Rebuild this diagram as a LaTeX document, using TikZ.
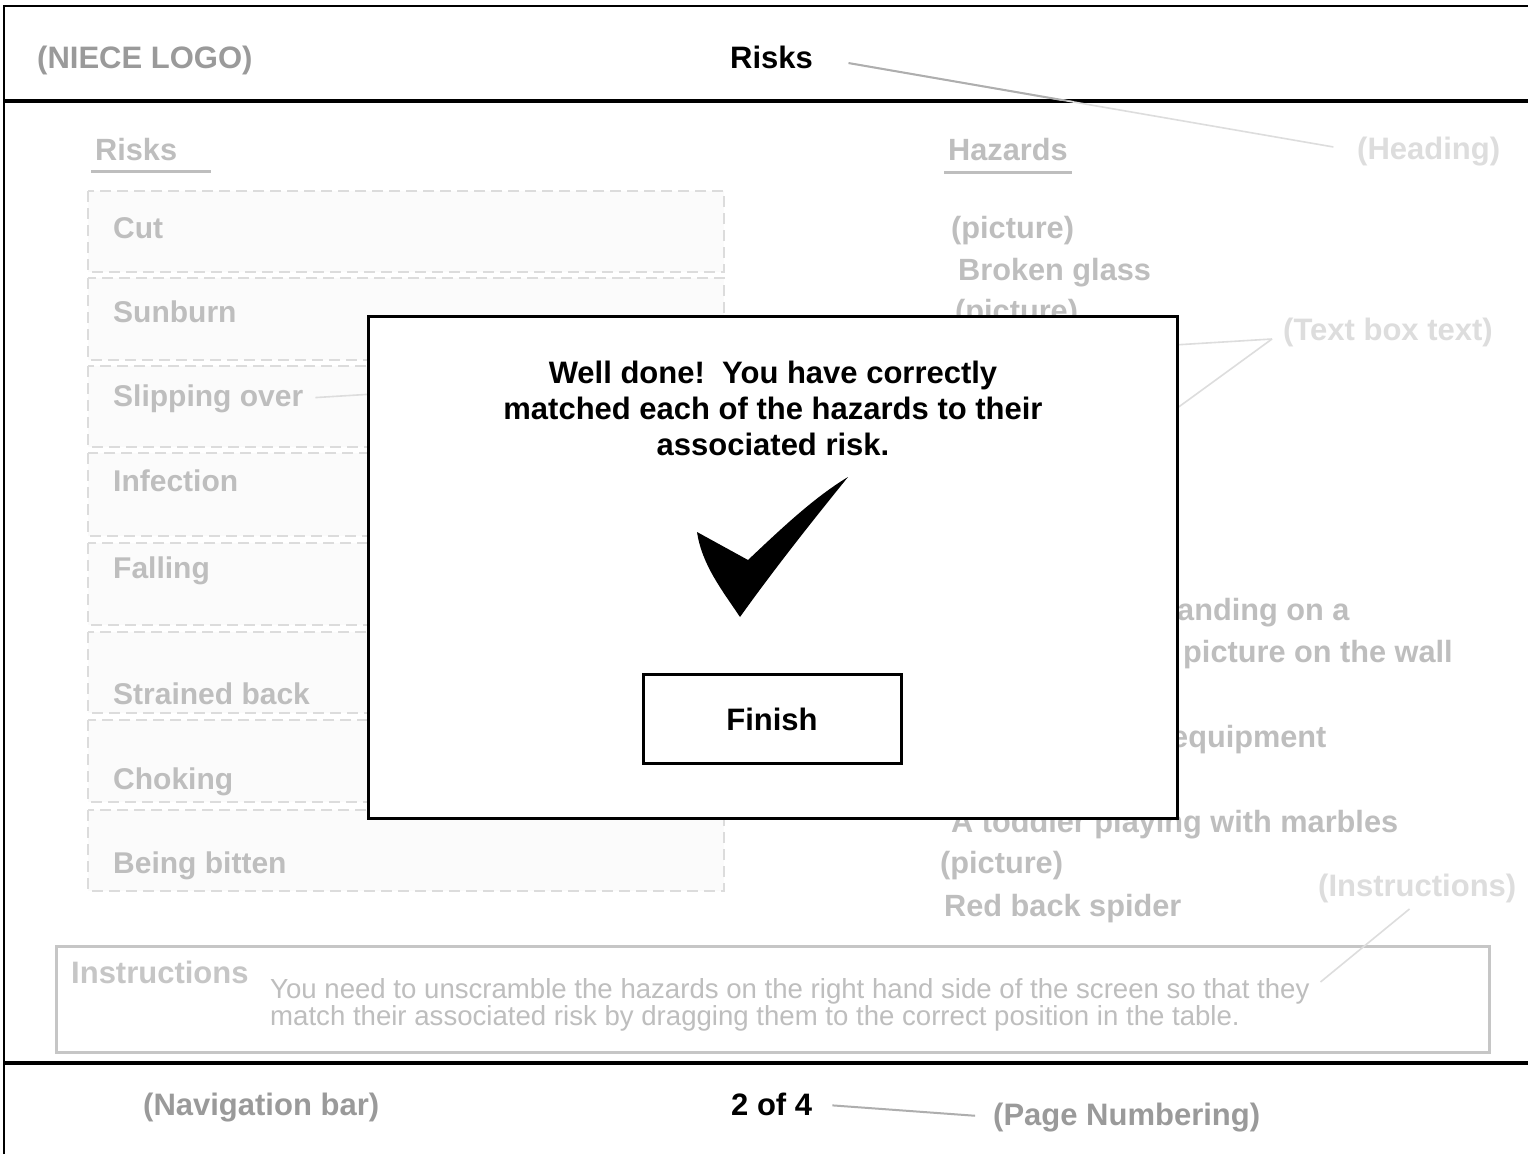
\documentclass[tikz,border=0pt]{standalone}
\usepackage{fontspec}
\setmainfont{Liberation Sans}

\definecolor{logogray}{HTML}{9A9A9A}
\definecolor{fadegray}{HTML}{BEBEBE}
\definecolor{notegray}{HTML}{DDDDDD}
\definecolor{boxgray}{HTML}{DCDCDC}
\definecolor{boxfill}{HTML}{FBFBFB}
\definecolor{insgray}{HTML}{C6C6C6}

\tikzset{
	bigtext/.style={anchor=base west,inner sep=0pt,font=\fontsize{31}{36}\selectfont\bfseries},
	risktext/.style={bigtext,font=\fontsize{30}{36}\selectfont\bfseries,text=fadegray},
	hazardtext/.style={bigtext,font=\fontsize{30.7}{36}\selectfont\bfseries,text=fadegray},
	notetext/.style={bigtext,text=notegray},
	noteline/.style={draw=notegray,line width=1.6pt},
	riskbox/.style={draw=boxgray,fill=boxfill,line width=1.6pt,dash pattern=on 11pt off 6pt},
	insline/.style={anchor=base west,inner sep=0pt,font=\fontsize{27.6}{27}\selectfont,text=fadegray}
}

\begin{document}
\begin{tikzpicture}[x=1pt,y=-1pt]
	\useasboundingbox (0,0) rectangle (1528,1154);
	\fill[white] (0,0) rectangle (1528,1154);

	% frame, header and footer
	\draw[line width=2.5pt] (4,1154) -- (4,6) -- (1528,6);
	\draw[line width=3.5pt] (4,101) -- (1528,101);
	\draw[line width=3.5pt] (4,1063) -- (1528,1063);

	\node[bigtext,text=logogray] (logo) at (37,68) {(NIECE LOGO)};
	\node[bigtext] (title) at (730,68) {Risks};
	\node[notetext] (headnote) at (1357,159) {(Heading)};
	\draw[noteline,shorten <=36pt,shorten >=24pt] (title.east) -- (headnote.west);
	\begin{scope}
		\clip (0,0) rectangle (1528,100);
		\draw[draw=logogray!80,line width=2pt,shorten <=36pt,shorten >=24pt] (title.east) -- (headnote.west);
	\end{scope}

	% risks column
	\node[hazardtext] (risks) at (95,160) {Risks};
	\draw[draw=fadegray,line width=3pt] (91,171) -- (211,171);
	\draw[riskbox] (88,191) rectangle (724,272);
	\draw[riskbox] (88,278) rectangle (724,360);
	\draw[riskbox] (88,366) rectangle (724,447);
	\draw[riskbox] (88,453) rectangle (724,536);
	\draw[riskbox] (88,543) rectangle (724,625);
	\draw[riskbox] (88,632) rectangle (724,713);
	\draw[riskbox] (88,720) rectangle (724,802);
	\draw[riskbox] (88,810) rectangle (724,891);
	\node[risktext] (cut) at (113,238) {Cut};
	\node[risktext] (sun) at (113,322) {Sunburn};
	\node[risktext] (slip) at (113,406) {Slipping over};
	\node[risktext] (infect) at (113,491) {Infection};
	\node[risktext] (fall) at (113,578) {Falling};
	\node[risktext] (back) at (113,704) {Strained back};
	\node[risktext] (choke) at (113,789) {Choking};
	\node[risktext] (bite) at (113,873) {Being bitten};

	% hazards column
	\node[hazardtext] (hazards) at (948,160) {Hazards};
	\draw[draw=fadegray,line width=3pt] (944,172) -- (1072,172);
	\node[hazardtext] (pic1) at (951,238) {(picture)};
	\node[hazardtext] (glass) at (958,280) {Broken glass};
	\node[hazardtext] (pic2) at (955,321) {(picture)};
	\node[hazardtext] (stand) at (1177,620) {anding on a};
	\node[hazardtext] (wall) at (1183,662) {picture on the wall};
	\node[hazardtext] (equip) at (1171,747) {equipment};
	\node[hazardtext] (toddler) at (951,832) {A toddler playing with marbles};
	\node[hazardtext] (pic3) at (940,873) {(picture)};
	\node[hazardtext] (spider) at (944,916) {Red back spider};

	% text box note
	\node[notetext] (tbnote) at (1283,340) {(Text box text)};
	\coordinate (tbtip) at (1272,339);
	\coordinate (tbhid) at (1110,457);
	\draw[noteline,shorten <=12pt] (slip.east) -- (tbtip);
	\draw[noteline] (tbtip) -- (tbhid);

	% popup
	\draw[fill=white,line width=3pt] (368,316) rectangle (1177,818);
	\node[align=center,inner sep=0pt,font=\fontsize{31}{36}\selectfont\bfseries] (msg) at (773,408)
		{Well done!\ \ You have correctly\\matched each of the hazards to their\\associated risk.};
	\fill (697,532) -- (748,560) .. controls (785,525) and (815,497) .. (848,477)
		.. controls (805,530) and (770,575) .. (740,617)
		.. controls (722,590) and (702,565) .. (697,532) -- cycle;
	\node[draw,line width=3pt,minimum width=258pt,minimum height=89pt,
		font=\fontsize{31}{36}\selectfont\bfseries] (finish) at (772,719) {Finish};

	% instructions
	\node[notetext] (insnote) at (1318,896) {(Instructions)};
	\draw[draw=insgray,line width=3pt] (56,946) rectangle (1489,1052);
	\node[bigtext,text=insgray] (inslabel) at (71,983) {Instructions};
	\node[insline] (instr1) at (270,998) {You need to unscramble the hazards on the right hand side of the screen so that they};
	\node[insline] (instr2) at (270,1025) {match their associated risk by dragging them to the correct position in the table.};
	\draw[noteline,shorten <=10pt,shorten >=14pt] (insnote.south) -- (instr1.east);

	% footer
	\node[bigtext,text=logogray] (nav) at (143,1115) {(Navigation bar)};
	\node[bigtext] (pgnum) at (731,1115) {2 of 4};
	\node[bigtext,text=logogray] (pgnote) at (993,1125) {(Page Numbering)};
	\draw[draw=logogray!80,line width=2pt,shorten <=20pt,shorten >=18pt] (pgnum.east) -- (pgnote.west);

\end{tikzpicture}
\end{document}
